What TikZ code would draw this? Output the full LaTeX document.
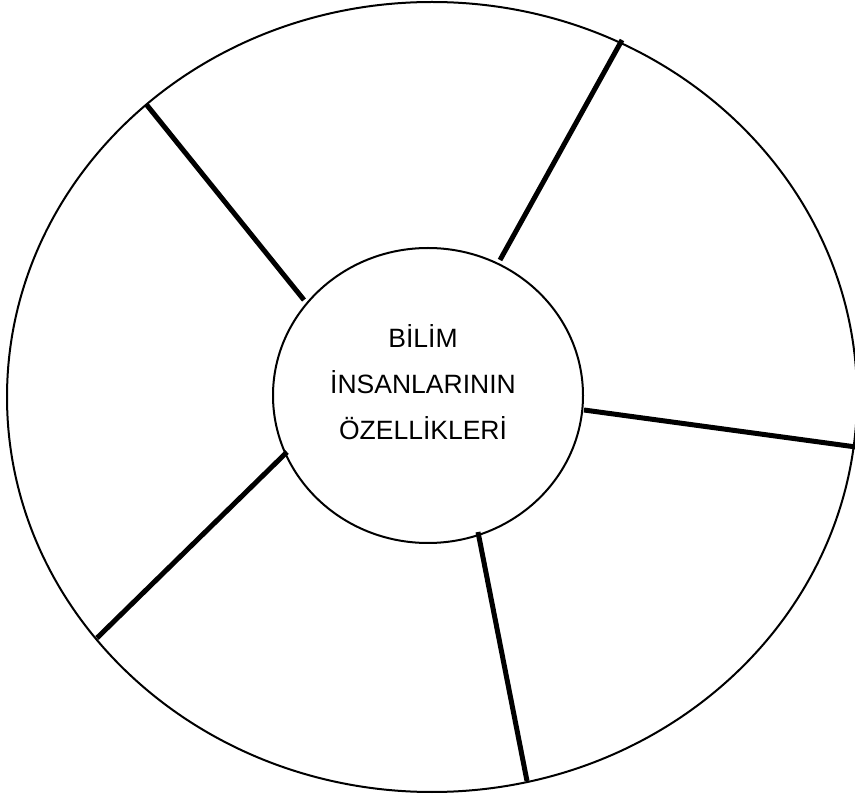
\documentclass[tikz,border=0pt]{standalone}
\usepackage{fontspec}
\setmainfont{Liberation Sans}
\usetikzlibrary{shapes.geometric}
\begin{document}
\begin{tikzpicture}[x=1pt,y=-1pt,
  rim/.style={draw=black,line width=2pt},
  spoke/.style={draw=black,line width=5pt},
  label/.style={align=center,font=\fontsize{26.5}{46}\selectfont}]
\useasboundingbox (0,0) rectangle (855,799);
% outer ring and centre disc
\draw[rim] (432,397) ellipse [x radius=425, y radius=395];
\draw[rim] (428,395.5) ellipse [x radius=155, y radius=147.5];
\node[label] (title) at (423,382) {BİLİM\\İNSANLARININ\\ÖZELLİKLERİ};
% spoke end points: inner (i) on the disc, outer (o) on the ring
\coordinate (i1) at (304,300); \coordinate (o1) at (146,104);
\coordinate (i2) at (500,260); \coordinate (o2) at (622,40);
\coordinate (i3) at (584,410); \coordinate (o3) at (856,447);
\coordinate (i4) at (478,532); \coordinate (o4) at (527,781);
\coordinate (i5) at (287,452); \coordinate (o5) at (97,638);
\foreach \k in {1,...,5} \draw[spoke] (i\k) -- (o\k);
\end{tikzpicture}
\end{document}
